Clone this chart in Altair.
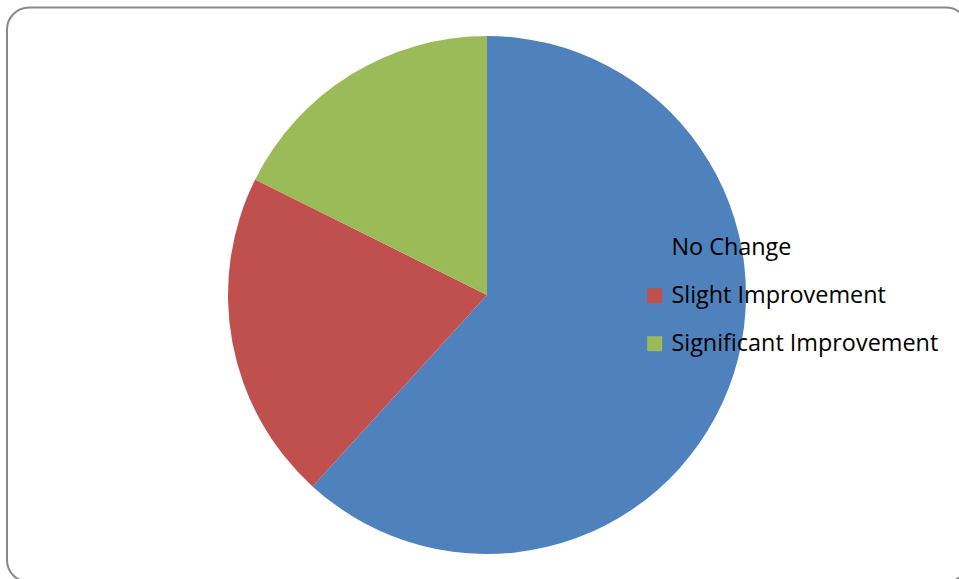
import altair as alt
import pandas as pd

categories = ["No Change", "Slight Improvement", "Significant Improvement"]
values = [21, 7, 6]
colors = ["#4F81BD", "#C0504D", "#9BBB59"]

df = pd.DataFrame({"category": categories, "value": values, "order": list(range(len(categories)))})

pie = alt.Chart(df).mark_arc(radius=259, stroke=None).encode(
    theta=alt.Theta("value:Q", stack=True),
    order=alt.Order("order:Q"),
    color=alt.Color(
        "category:N",
        sort=categories,
        scale=alt.Scale(domain=categories, range=colors),
        legend=alt.Legend(
            title=None,
            orient="none",
            legendX=643,
            legendY=236,
            symbolType="square",
            symbolSize=225,
            symbolStrokeWidth=0,
            labelFontSize=23.4,
            labelFont="Open Sans",
            labelColor="#000000",
            labelOffset=5,
            rowPadding=23,
            padding=0,
            labelLimit=400,
        ),
    ),
    x=alt.value(487),
    y=alt.value(295),
)

border = alt.Chart(pd.DataFrame({"a": [0]})).mark_rect(
    cornerRadius=22, fill=None, stroke="#888888", strokeWidth=2
).encode(
    x=alt.value(7), x2=alt.value(968), y=alt.value(7.5), y2=alt.value(582)
)

chart = alt.layer(border, pie).properties(
    width=959, height=579, padding=0, autosize=alt.AutoSizeParams(type="none")
).configure_view(stroke=None)

chart.save("out.html", embed_options={"renderer": "svg", "actions": False})
